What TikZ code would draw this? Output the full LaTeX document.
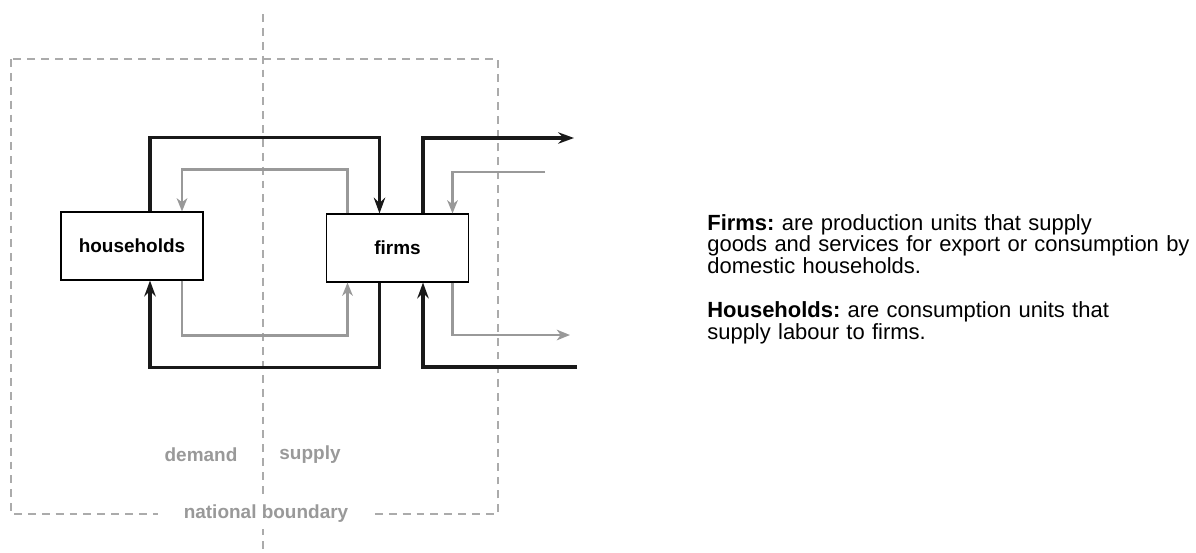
\documentclass[tikz,border=0pt]{standalone}
\usepackage{fontspec}
\setmainfont{Liberation Sans}
\usetikzlibrary{arrows.meta,positioning,calc}
\definecolor{flowgray}{HTML}{999999}
\definecolor{linegray}{HTML}{ABABAB}
\frenchspacing

\begin{document}
\begin{tikzpicture}[
    x=0.02cm, y=-0.02cm,
    font=\fontsize{10.8}{13}\selectfont\bfseries,
    sector/.style={draw, line width=0.6pt, minimum width=2.84cm, minimum height=1.36cm, inner sep=0pt, fill=white},
    realflow/.style={line width=1.9pt, black!90, -{Stealth[length=9pt, width=6.5pt, inset=3pt]}},
    moneyflow/.style={line width=1.4pt, flowgray, -{Stealth[length=7.5pt, width=6pt, inset=2.2pt]}},
    border/.style={linegray, line width=0.7pt, dash pattern=on 4.5pt off 3.4pt},
    side/.style={text=flowgray, font=\fontsize{10.8}{13}\selectfont\bfseries},
    defn/.style={anchor=north west, inner sep=0pt, align=left, text width=9.8cm, font=\fontsize{12.5}{12.2}\selectfont}
]
\useasboundingbox (0,0) rectangle (1196,552);

% national boundary and the demand / supply split
\draw[border] (11,59) rectangle (498,514);
\draw[border] (263,14) -- (263,552);
\node[side, fill=white, inner xsep=0.52cm] (nb) at (266,514) {national boundary};
\node[side] (dem) at (201,455) {demand};
\node[side] (sup) at (310,455) {supply};

% the two sectors
\node[sector] (hh) at (132,246) {households};
\node[sector] (fm) at (397.5,248) {firms};

% domestic circuit
\draw[realflow] ($(hh.north)+(18,0)$) -- ++(0,-74) -| ($(fm.north)+(-18,0)$);
\draw[moneyflow] ($(fm.north)+(-50,0)$) -- ++(0,-44) -| ($(hh.north)+(50,0)$);
\draw[realflow] ($(fm.south)+(-18,0)$) -- ++(0,85) -| ($(hh.south)+(18,0)$);
\draw[moneyflow] ($(hh.south)+(50,0)$) -- ++(0,55) -| ($(fm.south)+(-50,0)$);

% flows across the boundary
\coordinate (expout) at (574,138);
\coordinate (payin) at (545,172);
\coordinate (payout) at (570,335);
\coordinate (labin) at (577,367);
\draw[realflow] ($(fm.north)+(25.5,0)$) |- (expout);
\draw[moneyflow] (payin) -| ($(fm.north)+(55,0)$);
\draw[moneyflow] ($(fm.south)+(55,0)$) |- (payout);
\draw[realflow] (labin) -| ($(fm.south)+(25.5,0)$);

% definitions
\node[defn] (firmsdef) at (707,214) {\textbf{Firms:} are production units that supply\\
  goods and services for export or consumption by\\
  domestic households.};
\node[defn, below=0.56cm of firmsdef.south west, anchor=north west] (hhdef) {\textbf{Households:} are consumption units that\\
  supply labour to firms.};

\end{tikzpicture}
\end{document}
